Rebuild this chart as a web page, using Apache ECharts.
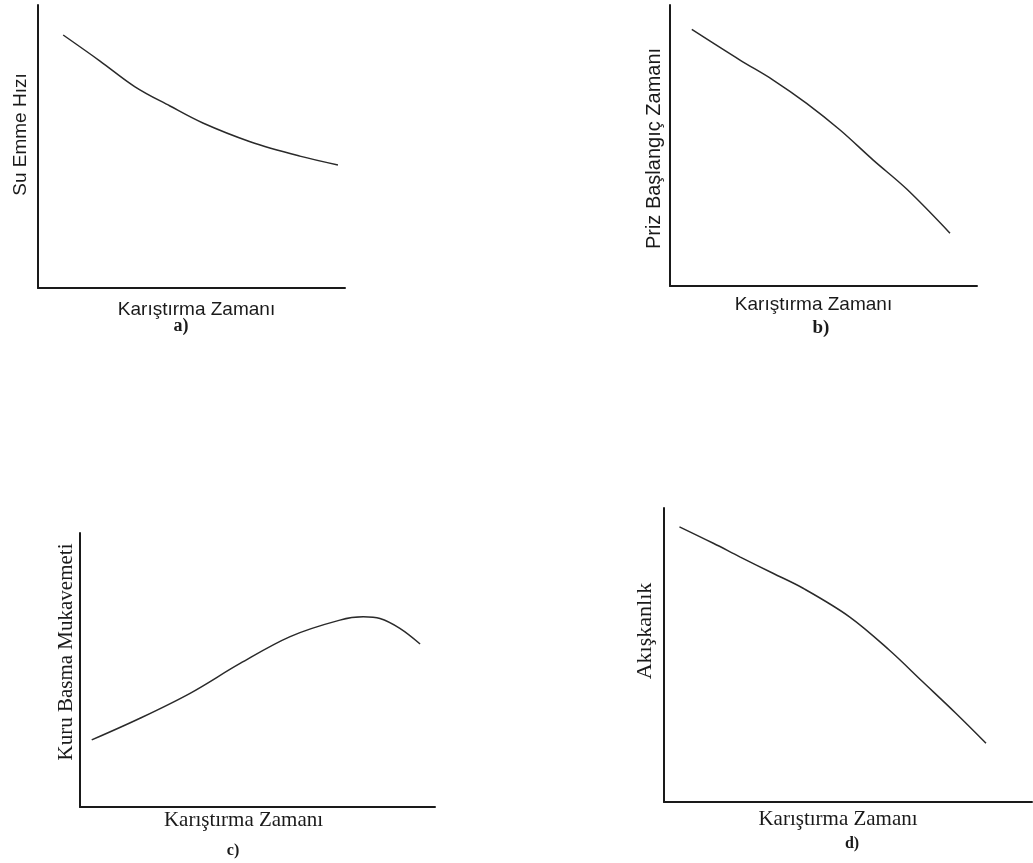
<!DOCTYPE html>
<html>
<head>
<meta charset="utf-8">
<script src="https://cdn.jsdelivr.net/npm/echarts@6/dist/echarts.min.js"></script>
<style>
  html, body { margin: 0; padding: 0; background: #fff; }
  #chart { width: 1033px; height: 863px; }
</style>
</head>
<body>
<div id="chart"></div>
<script>
// schematic curves, both axes in relative units 0..100
const xLabel = 'Karıştırma Zamanı';
const panelTags = ['a)', 'b)', 'c)', 'd)'];
const yLabels = ['Su Emme Hızı', 'Priz Başlangıç Zamanı', 'Kuru Basma Mukavemeti', 'Akışkanlık'];

const mixTimeA = [8.2, 20.2, 31.6, 43.0, 53.7, 69.1, 85.3, 97.7];
const waterAbsorption = [89.4, 80.2, 71.1, 64.3, 58.3, 51.7, 46.6, 43.5];

const mixTimeB = [7.1, 22.8, 33.6, 44.5, 55.4, 66.2, 77.1, 91.2];
const settingTime = [91.3, 80.4, 73.3, 65.0, 55.5, 44.8, 34.5, 18.8];

const mixTimeC = [3.3, 16.9, 31.0, 45.1, 59.2, 73.2, 79.8, 84.5, 90.1, 95.8];
const dryStrength = [24.5, 32.4, 41.5, 52.4, 62.2, 68.2, 69.4, 68.8, 65.2, 59.5];

const mixTimeD = [4.2, 13.4, 20.6, 29.6, 37.8, 50.4, 61.2, 70.3, 79.3, 87.5];
const fluidity = [93.6, 88.0, 83.4, 77.8, 72.7, 63.0, 51.7, 40.9, 30.2, 20.0];

const pairs = (xs, ys) => xs.map((x, i) => [x, ys[i]]);

const sans = 'Liberation Sans, Arial, sans-serif';
const serif = 'Liberation Serif, Times New Roman, serif';

const axisLine = { lineStyle: { color: '#1a1a1a', width: 2 } };

const makeX = (idx, font, size, gap, pad) => ({
  gridIndex: idx,
  type: 'value',
  min: 0,
  max: 100,
  name: xLabel,
  nameLocation: 'middle',
  nameGap: gap,
  nameTextStyle: { fontFamily: font, fontSize: size, color: '#1a1a1a', padding: pad },
  axisLine: axisLine,
  axisTick: { show: false },
  axisLabel: { show: false },
  splitLine: { show: false }
});

const makeY = (idx, font, size, gap, pad) => ({
  gridIndex: idx,
  type: 'value',
  min: 0,
  max: 100,
  name: yLabels[idx],
  nameLocation: 'middle',
  nameRotate: 90,
  nameGap: gap,
  nameTextStyle: { fontFamily: font, fontSize: size, color: '#1a1a1a', padding: pad },
  axisLine: axisLine,
  axisTick: { show: false },
  axisLabel: { show: false },
  splitLine: { show: false }
});

const makeLine = (idx, data) => ({
  type: 'line',
  xAxisIndex: idx,
  yAxisIndex: idx,
  data: data,
  smooth: 0.35,
  showSymbol: false,
  lineStyle: { color: '#2a2a2a', width: 1.5 }
});

const tag = (text, x, y, size) => ({
  text: text,
  left: x,
  top: y,
  textAlign: 'center',
  padding: 0,
  textStyle: { fontFamily: serif, fontWeight: 'bold', fontSize: size, color: '#1a1a1a' }
});

const chart = echarts.init(document.getElementById('chart'));

chart.setOption({
  animation: false,
  backgroundColor: '#fff',
  title: [
    tag(panelTags[0], 181, 317, 18),
    tag(panelTags[1], 821, 319, 19),
    tag(panelTags[2], 233, 843, 16),
    tag(panelTags[3], 852, 836, 16)
  ],
  grid: [
    { left: 38, top: 5, width: 307, height: 283 },
    { left: 670, top: 5, width: 307, height: 281 },
    { left: 80, top: 533, width: 355, height: 274 },
    { left: 664, top: 508, width: 368, height: 294 }
  ],
  xAxis: [
    makeX(0, sans, 19, 12, [0, 0, 0, 10]),
    makeX(1, sans, 19, 9, [0, 20, 0, 0]),
    makeX(2, serif, 21, 3, [0, 28, 0, 0]),
    makeX(3, serif, 21, 7, [0, 20, 0, 0])
  ],
  yAxis: [
    makeY(0, sans, 19, 8, [0, 0, 0, 24]),
    makeY(1, sans, 20, 6, [0, 6, 0, 0]),
    makeY(2, serif, 21, 3, [0, 0, 0, 36]),
    makeY(3, serif, 22, 8, [0, 0, 0, 48])
  ],
  series: [
    makeLine(0, pairs(mixTimeA, waterAbsorption)),
    makeLine(1, pairs(mixTimeB, settingTime)),
    makeLine(2, pairs(mixTimeC, dryStrength)),
    makeLine(3, pairs(mixTimeD, fluidity))
  ]
});
</script>
</body>
</html>
